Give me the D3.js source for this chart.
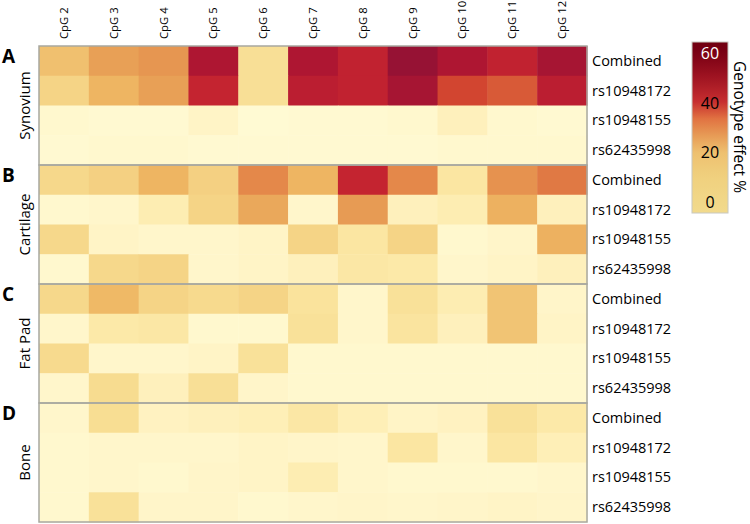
<!DOCTYPE html>
<html>
<head>
<meta charset="utf-8">
<script src="https://cdn.jsdelivr.net/npm/d3@7"></script>
<style>
  body { margin: 0; background: #fff; }
  text { font-family: "Open Sans", sans-serif; }
</style>
</head>
<body>
<div id="chart"></div>
<script>
const width = 750
const height = 524

const cpgs = ['CpG 2', 'CpG 3', 'CpG 4', 'CpG 5', 'CpG 6', 'CpG 7', 'CpG 8', 'CpG 9', 'CpG 10', 'CpG 11', 'CpG 12']
const snps = ['Combined', 'rs10948172', 'rs10948155', 'rs62435998']
const tissues = ['Synovium', 'Cartilage', 'Fat Pad', 'Bone']
const letters = ['A', 'B', 'C', 'D']
const legendTicks = [0, 20, 40, 60]

// genotype effect % per snp row, per CpG
const synovium = [
  [17, 25, 27, 52, 9, 52, 46, 58, 52, 46, 54],
  [12, 20, 25, 45, 9, 48, 46, 54, 39, 36, 48],
  [1.5, 1, 1, 3, 0.5, 1, 1, 1.5, 4, 1.5, 1],
  [1, 1.5, 1.5, 1, 1, 1, 1, 1, 1.5, 1.5, 1.5]
]
const cartilage = [
  [11, 13, 20, 13, 30, 20, 45, 30, 7, 28, 32],
  [1.5, 2, 5, 12, 23, 2, 26, 4, 5, 21, 4],
  [11, 3, 2, 2, 3, 12, 7, 12, 1.5, 2.5, 21],
  [1.5, 11, 12, 2, 3, 4, 6.5, 6, 2, 3, 4]
]
const fatPad = [
  [11, 19, 12, 10.5, 12, 8, 2, 8.5, 5, 16, 2.5],
  [2, 6, 6.5, 1.5, 1.5, 8.5, 2, 7.5, 4, 16, 3],
  [10.5, 2, 2, 3, 8.5, 1.5, 1.5, 1.5, 1.5, 1.5, 1.5],
  [2, 10, 4, 9, 2.5, 1.5, 1.5, 1.5, 1.5, 1.5, 1.5]
]
const bone = [
  [2, 9.5, 3.5, 4, 4.5, 6.5, 4.5, 3, 3.5, 8.5, 6],
  [1.5, 2, 2, 2, 3, 2.5, 2, 7, 2, 7, 4.5],
  [1.5, 2, 1.5, 2.5, 3, 5, 2, 1.5, 1.5, 1.5, 2],
  [1.5, 8.5, 2.5, 2.5, 1.5, 2, 2.5, 2, 2.5, 3, 2.5]
]
const tissueValues = [synovium, cartilage, fatPad, bone]

const cells = []
tissueValues.forEach((t, ti) => {
  t.forEach((row, si) => {
    row.forEach((v, ci) => {
      cells.push({ tissue: ti, snp: si, row: ti * snps.length + si, cpg: cpgs[ci], value: v })
    })
  })
})

const mLeft = 39, mRight = 587, mTop = 46, mBottom = 522
const nRows = tissues.length * snps.length

const x = d3.scaleBand().domain(cpgs).range([mLeft, mRight])
const y = d3.scaleBand().domain(d3.range(nRows)).range([mTop, mBottom])

const color = d3.scaleLinear()
  .domain([0, 3, 6, 10, 15, 20, 25, 30, 38, 45, 52, 60])
  .range(['#fffbd6', '#fff4c6', '#fce9a8', '#f7dc90', '#f2c878', '#eeb562',
          '#e8a056', '#e4884a', '#d44a30', '#c42430', '#ae1632', '#8e1034'])
  .clamp(true)

const svg = d3.select('#chart').append('svg')
  .attr('width', width)
  .attr('height', height)

svg.append('g')
  .selectAll('rect')
  .data(cells)
  .join('rect')
  .attr('x', d => x(d.cpg))
  .attr('y', d => y(d.row))
  .attr('width', x.bandwidth() + 0.5)
  .attr('height', y.bandwidth() + 0.5)
  .attr('fill', d => color(d.value))

// panel borders
const panelH = y.bandwidth() * snps.length
svg.append('g')
  .selectAll('rect')
  .data(tissues)
  .join('rect')
  .attr('x', mLeft)
  .attr('y', (d, i) => y(i * snps.length))
  .attr('width', mRight - mLeft)
  .attr('height', panelH)
  .attr('fill', 'none')
  .attr('stroke', '#a8a8a0')
  .attr('stroke-width', 1.5)

// column labels
svg.append('g')
  .selectAll('text')
  .data(cpgs)
  .join('text')
  .attr('transform', d => `translate(${x(d) + x.bandwidth() / 2 + 4},39) rotate(-90)`)
  .attr('font-size', 11.3)
  .attr('fill', '#000')
  .text(d => d)

// row labels
svg.append('g')
  .selectAll('text')
  .data(d3.range(nRows))
  .join('text')
  .attr('x', mRight + 5)
  .attr('y', d => y(d) + y.bandwidth() / 2 + 5)
  .attr('font-size', 14.5)
  .attr('fill', '#000')
  .text(d => snps[d % snps.length])

// tissue names and panel letters
svg.append('g')
  .selectAll('text')
  .data(tissues)
  .join('text')
  .attr('transform', (d, i) => `translate(30,${y(i * snps.length) + panelH / 2}) rotate(-90)`)
  .attr('text-anchor', 'middle')
  .attr('font-size', 15)
  .attr('fill', '#000')
  .text(d => d)

svg.append('g')
  .selectAll('text')
  .data(letters)
  .join('text')
  .attr('x', 2)
  .attr('y', (d, i) => y(i * snps.length) + 17)
  .attr('font-size', 19)
  .attr('font-weight', 'bold')
  .attr('fill', '#000')
  .text(d => d)

// color legend
const legY = d3.scaleLinear().domain([0, 60]).range([202, 53])
const legMin = legY.invert(213), legMax = legY.invert(42)
const legendColor = d3.scaleLinear()
  .domain([-5, 0, 10, 20, 28, 34, 40, 50, 60, 65])
  .range(['#f2da8c', '#f1d888', '#f0d07e', '#eec070', '#e69452', '#e07040', '#c83030', '#a01422', '#7a0014', '#700010'])

const defs = svg.append('defs')
const grad = defs.append('linearGradient')
  .attr('id', 'leg')
  .attr('x1', 0).attr('x2', 0).attr('y1', 1).attr('y2', 0)
grad.selectAll('stop')
  .data(d3.range(0, 1.0001, 0.05))
  .join('stop')
  .attr('offset', d => d)
  .attr('stop-color', d => legendColor(legMin + d * (legMax - legMin)))

svg.append('rect')
  .attr('x', 692)
  .attr('y', legY(legMax))
  .attr('width', 36)
  .attr('height', legY(legMin) - legY(legMax))
  .attr('fill', 'url(#leg)')
  .attr('stroke', '#c8c8c0')
  .attr('stroke-width', 1)

svg.append('g')
  .selectAll('text')
  .data(legendTicks)
  .join('text')
  .attr('x', 710)
  .attr('y', d => legY(d) + 6)
  .attr('text-anchor', 'middle')
  .attr('font-size', 16)
  .attr('fill', d => d >= 60 ? '#fff' : '#000')
  .text(d => d)

svg.append('text')
  .attr('transform', `translate(734,127) rotate(90)`)
  .attr('text-anchor', 'middle')
  .attr('font-size', 15.5)
  .attr('fill', '#000')
  .text('Genotype effect %')
</script>
</body>
</html>
